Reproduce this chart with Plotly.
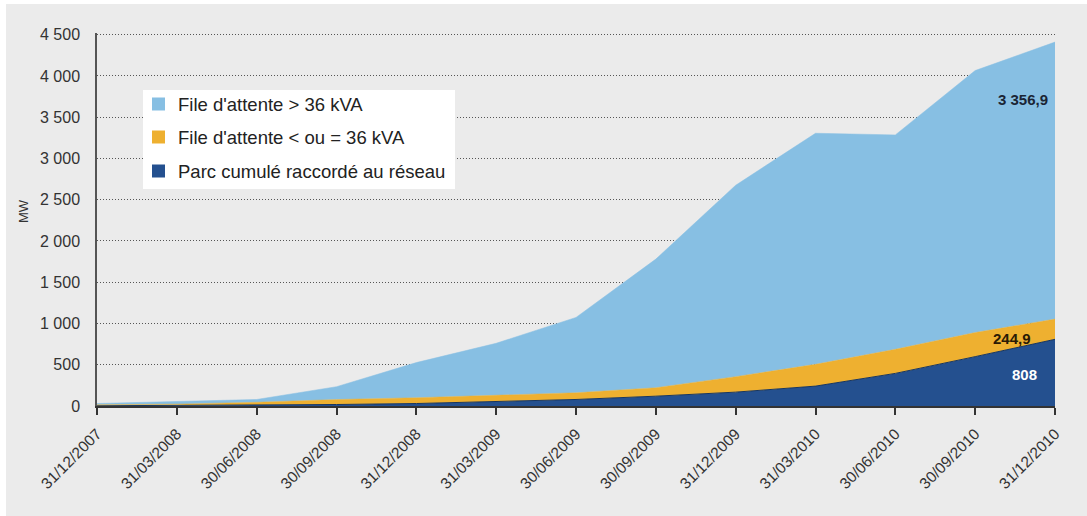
import plotly.graph_objects as go

dates = ["31/12/2007", "31/03/2008", "30/06/2008", "30/09/2008", "31/12/2008",
         "31/03/2009", "30/06/2009", "30/09/2009", "31/12/2009", "31/03/2010",
         "30/06/2010", "30/09/2010", "31/12/2010"]

parc_raccorde = [3, 6, 10, 18, 30, 50, 79, 119, 168, 241, 395, 598, 808]
file_petite = [12, 16, 35, 60, 70, 78, 81, 102, 187, 264, 292, 292, 244.9]
file_grande = [15, 29, 34, 156, 426, 632, 913, 1559, 2320, 2800, 2598, 3175, 3356.9]

names = ["Parc cumulé raccordé au réseau", "File d'attente < ou = 36 kVA", "File d'attente > 36 kVA"]
colors = ["#24508F", "#EEB030", "#87BFE3"]

y_ticks = [0, 500, 1000, 1500, 2000, 2500, 3000, 3500, 4000, 4500]
y_ticktext = ["0", "500", "1 000", "1 500", "2 000", "2 500", "3 000", "3 500", "4 000", "4 500"]

label_texts = ["808", "244,9", "3 356,9"]

FONT = "Liberation Sans, Arial, sans-serif"
BG = "#EBEBEB"
TXT = "#333333"

fig = go.Figure()
series = [parc_raccorde, file_petite, file_grande]
line_cols = ["#17355F", "#EEB030", "#87BFE3"]
for vals, name, col, lc in zip(series, names, colors, line_cols):
    fig.add_trace(go.Scatter(
        x=dates, y=vals, name=name, mode="lines", stackgroup="one",
        fillcolor=col, line=dict(color=lc, width=1 if lc != col else 0.5),
        showlegend=False, hoverinfo="skip"))

W, H = 1087, 516
L, R, T, B = 97, 32, 33, 110
pw, ph = W - L - R, H - T - B

def px(x):
    return (x - L) / pw

def py(y):
    return (H - B - y) / ph

shapes = []
# white strips at left/top edges
shapes.append(dict(type="rect", xref="paper", yref="paper", layer="below",
                   x0=px(-5), x1=px(6), y0=py(H + 5), y1=py(-5),
                   fillcolor="white", line=dict(width=0)))
shapes.append(dict(type="rect", xref="paper", yref="paper", layer="below",
                   x0=px(-5), x1=px(W + 5), y0=py(4), y1=py(-5),
                   fillcolor="white", line=dict(width=0)))
# legend box
shapes.append(dict(type="rect", xref="paper", yref="paper",
                   x0=px(143), x1=px(455), y0=py(189), y1=py(90),
                   fillcolor="white", line=dict(width=0)))
legend_rows = [(names[2], colors[2], 104), (names[1], colors[1], 137), (names[0], colors[0], 171)]
annotations = []
for name, col, yc in legend_rows:
    shapes.append(dict(type="rect", xref="paper", yref="paper",
                       x0=px(152), x1=px(165), y0=py(yc + 6.5), y1=py(yc - 6.5),
                       fillcolor=col, line=dict(width=0)))
    annotations.append(dict(xref="paper", yref="paper", x=px(176), y=py(yc),
                            xanchor="left", yanchor="middle", showarrow=False,
                            text=name, font=dict(family=FONT, size=18.5, color="#222222")))

# end labels
lab_pos = [(1024, 374, "white"), (1012, 338, "#2A1A05"), (1023, 99, "#1A2535")]
for txt, (lx, ly, c) in zip(label_texts, lab_pos):
    annotations.append(dict(xref="paper", yref="paper", x=px(lx), y=py(ly),
                            xanchor="center", yanchor="middle", showarrow=False,
                            text="<b>" + txt + "</b>", font=dict(family=FONT, size=15, color=c)))

# y-axis title
annotations.append(dict(xref="paper", yref="paper", x=px(23), y=py(211), textangle=-90,
                        xanchor="center", yanchor="middle", showarrow=False,
                        text="MW", font=dict(family=FONT, size=13, color=TXT)))

fig.update_layout(
    width=W, height=H,
    margin=dict(l=L, r=R, t=T, b=B, autoexpand=False),
    paper_bgcolor=BG, plot_bgcolor=BG,
    font=dict(family=FONT, color=TXT),
    shapes=shapes, annotations=annotations,
    showlegend=False,
)
fig.update_xaxes(
    type="category", range=[0, len(dates) - 1], tickangle=-45,
    showgrid=False, showline=True, linecolor="#333333", linewidth=1.5,
    ticks="outside", ticklen=7, tickcolor="#333333", tickwidth=1.5,
    ticklabelstandoff=4, automargin=False,
    tickfont=dict(family=FONT, size=15.5, color=TXT), zeroline=False,
)
fig.update_yaxes(
    range=[0, 4520], tickvals=y_ticks, ticktext=y_ticktext,
    showgrid=True, gridcolor="#555555", griddash="1px,2px", gridwidth=1,
    showline=True, linecolor="#555555", linewidth=1.5, ticks="",
    ticklabelstandoff=12, zeroline=False, automargin=False,
    tickfont=dict(family=FONT, size=16, color=TXT),
)

fig.write_html("out.html", config={"displayModeBar": False},
               post_script="document.body.style.margin='0';document.body.style.padding='0';"
                           "document.body.style.background='#EBEBEB';"
                           "document.documentElement.style.background='#EBEBEB';")
